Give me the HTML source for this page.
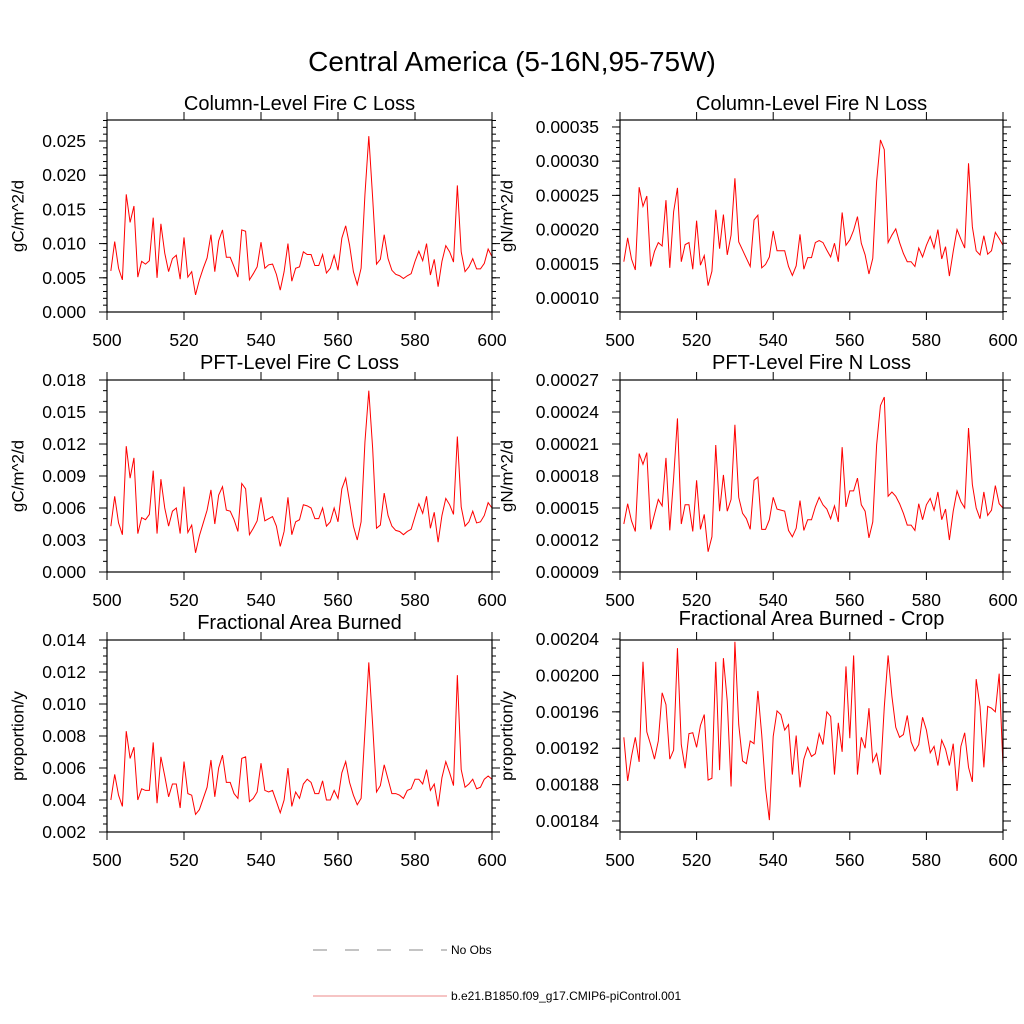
<!DOCTYPE html>
<html><head><meta charset="utf-8"><style>
html,body{margin:0;padding:0;background:#fff;}
svg{display:block;font-family:"Liberation Sans",sans-serif;}
</style></head><body>
<svg id="chart" width="1024" height="1024" viewBox="0 0 1024 1024">
<text x="512" y="71" font-size="28" text-anchor="middle">Central America (5-16N,95-75W)</text>
<g>
<line x1="313" y1="950" x2="447" y2="950" stroke="#888" stroke-width="1" stroke-dasharray="14,18"/>
<text x="451" y="954" font-size="12">No Obs</text>
<line x1="313" y1="996" x2="447" y2="996" stroke="#e88" stroke-width="1"/>
<text x="451" y="1000" font-size="12">b.e21.B1850.f09_g17.CMIP6-piControl.001</text>
</g>
</svg>
<script>
// years 501..600
const yearStart = 501;
const xTicks = [500, 520, 540, 560, 580, 600];
// Column-level fire C loss (x1e-3 gC/m^2/d)
const colCLoss = [6.0,10.3,6.4,4.7,17.2,13.1,15.5,5.1,7.4,7.0,7.5,13.8,5.0,12.9,8.6,5.9,7.8,8.3,4.8,10.9,5.1,5.9,2.5,4.7,6.4,7.9,11.3,5.9,10.4,12.0,8.0,8.0,6.6,5.1,12.0,11.8,4.7,5.6,6.6,10.2,6.4,6.9,7.0,5.5,3.2,5.9,10.0,4.5,6.4,6.6,8.8,8.4,8.4,6.8,6.8,8.4,5.7,6.4,8.3,6.1,10.8,12.6,9.8,5.9,4.0,6.4,17.2,25.7,16.7,7.0,7.7,11.3,7.8,6.1,5.5,5.3,4.9,5.3,5.6,7.4,8.9,7.5,10.0,5.4,7.7,3.7,7.4,9.7,8.8,7.3,18.5,8.8,5.9,6.6,7.8,6.3,6.3,7.1,9.2,8.1];
// Column-level fire N loss (x1e-5 gN/m^2/d)
const colNLoss = [15.3,18.8,15.7,14.1,26.2,23.4,24.9,14.6,16.8,18.1,17.6,24.3,14.4,22.6,26.1,15.3,17.8,18.1,14.2,21.3,14.8,16.2,11.8,13.9,22.9,17.2,22.2,16.3,19.2,27.5,18.2,17.0,15.8,14.6,21.4,22.1,14.4,14.9,16.0,19.8,16.9,16.9,16.9,14.6,13.3,14.7,19.3,14.2,15.9,15.9,18.1,18.4,18.1,17.0,16.0,18.0,15.3,22.5,17.7,18.5,19.9,21.9,18.0,16.3,13.5,15.8,27.0,33.1,31.7,18.1,19.2,20.1,18.1,16.5,15.3,15.3,14.6,17.3,16.0,17.7,19.0,17.3,20.0,15.7,17.5,13.2,16.8,20.0,18.6,17.3,29.7,20.4,16.9,16.3,19.1,16.4,16.9,19.6,18.7,17.7];
// PFT-level fire C loss (x1e-3)
const pftCLoss = [4.3,7.1,4.6,3.5,11.8,8.8,10.7,3.6,5.1,4.9,5.4,9.5,3.6,8.7,6.0,4.3,5.7,6.0,3.6,8.0,3.7,4.4,1.8,3.4,4.6,5.8,7.7,4.5,7.2,8.0,5.8,5.7,4.9,3.8,8.3,7.8,3.5,4.1,4.8,7.0,4.8,5.0,5.2,4.3,2.4,3.8,7.0,3.5,4.7,4.9,6.3,6.2,6.0,5.0,5.0,6.0,4.3,4.7,6.0,4.7,7.8,8.8,6.6,4.3,3.0,4.7,12.2,17.0,11.6,4.1,4.4,7.4,5.3,4.3,3.9,3.8,3.5,3.8,4.0,5.2,6.4,5.5,7.1,4.1,5.6,2.8,5.3,6.9,6.3,5.4,12.7,6.1,4.3,4.7,5.7,4.6,4.7,5.3,6.5,6.0];
// PFT-level fire N loss (x1e-5)
const pftNLoss = [13.5,15.4,13.8,12.8,20.1,19.1,20.2,13.0,14.4,15.8,15.2,19.7,12.9,17.8,23.4,13.5,15.3,15.3,12.8,17.6,13.0,14.4,10.9,12.3,20.9,14.7,18.1,14.7,15.8,22.8,16.0,14.5,14.0,13.0,17.6,17.9,13.0,13.0,13.9,16.0,14.9,14.8,14.7,12.9,12.3,13.1,15.7,12.9,13.9,13.9,15.1,16.0,15.3,14.9,14.0,15.2,13.7,20.7,15.1,16.6,16.6,17.8,15.3,14.7,12.2,13.7,20.9,24.6,25.4,16.1,16.5,16.1,15.4,14.5,13.4,13.4,12.9,15.4,13.9,15.3,15.9,14.8,16.5,13.9,14.9,12.0,14.7,16.6,15.6,15.0,22.5,17.2,15.0,14.0,16.5,14.3,14.8,17.1,15.4,15.0];
// Fractional area burned (x1e-3 proportion/y)
const areaBurned = [4.0,5.6,4.3,3.6,8.3,6.6,7.3,4.0,4.7,4.6,4.6,7.6,3.8,6.7,5.5,4.2,5.0,5.0,3.5,6.4,4.4,4.3,3.1,3.4,4.1,4.8,6.5,4.2,6.0,6.8,5.1,5.1,4.4,4.1,6.6,6.7,3.9,4.1,4.5,6.3,4.6,4.5,4.6,3.9,3.2,4.0,6.0,3.6,4.5,4.1,5.0,5.3,5.1,4.4,4.4,5.2,4.0,4.0,4.6,4.1,5.7,6.4,5.1,4.3,3.7,4.1,8.3,12.6,8.7,4.5,4.9,6.2,5.3,4.4,4.4,4.3,4.1,4.6,4.7,5.3,5.3,5.0,5.9,4.6,5.0,3.6,5.4,6.4,5.7,4.9,11.8,5.9,4.8,5.0,5.3,4.7,4.8,5.3,5.5,5.3];
// Fractional area burned - crop (x1e-5)
const areaBurnedCrop = [193.2,188.4,191.1,193.2,190.5,201.5,193.8,192.4,190.8,192.8,198.1,196.8,190.8,191.8,203.0,192.4,189.8,193.6,193.7,192.1,194.5,195.7,188.5,188.7,201.5,189.6,201.9,197.2,187.8,203.7,194.6,190.6,190.3,192.8,192.5,198.3,193.5,187.6,184.1,193.3,196.1,195.7,194.0,194.6,189.1,193.4,187.7,190.8,192.1,191.1,191.4,193.6,192.4,196.0,195.5,189.1,194.8,191.6,201.0,193.1,202.2,189.1,193.2,192.0,196.4,190.5,191.4,189.1,196.5,202.2,197.7,194.3,193.2,193.5,195.6,192.7,191.7,192.4,195.4,194.0,191.5,192.2,190.1,192.9,191.9,190.1,192.5,187.3,192.2,193.7,189.9,188.3,199.6,196.6,189.9,196.6,196.4,196.0,200.2,190.0];

const yTicks1 = [0,5,10,15,20,25];
const yLabels1 = ["0.000","0.005","0.010","0.015","0.020","0.025"];
const yTicks2 = [10,15,20,25,30,35];
const yLabels2 = ["0.00010","0.00015","0.00020","0.00025","0.00030","0.00035"];
const yTicks3 = [0,3,6,9,12,15,18];
const yLabels3 = ["0.000","0.003","0.006","0.009","0.012","0.015","0.018"];
const yTicks4 = [9,12,15,18,21,24,27];
const yLabels4 = ["0.00009","0.00012","0.00015","0.00018","0.00021","0.00024","0.00027"];
const yTicks5 = [2,4,6,8,10,12,14];
const yLabels5 = ["0.002","0.004","0.006","0.008","0.010","0.012","0.014"];
const yTicks6 = [184,188,192,196,200,204];
const yLabels6 = ["0.00184","0.00188","0.00192","0.00196","0.00200","0.00204"];

const panels = [
 {name:'col-fire-c-loss', title:'Column-Level Fire C Loss', ylab:'gC/m^2/d', x0:107,x1:492,y0:120,y1:312, ymin:0, ymax:28.07, data:colCLoss, ticks:yTicks1, labels:yLabels1, minor:1, labx:18, ty:110},
 {name:'col-fire-n-loss', title:'Column-Level Fire N Loss', ylab:'gN/m^2/d', x0:620,x1:1003,y0:120,y1:312, ymin:7.95, ymax:36.02, data:colNLoss, ticks:yTicks2, labels:yLabels2, minor:1, labx:507, ty:110},
 {name:'pft-fire-c-loss', title:'PFT-Level Fire C Loss', ylab:'gC/m^2/d', x0:107,x1:492,y0:380,y1:572, ymin:0, ymax:18, data:pftCLoss, ticks:yTicks3, labels:yLabels3, minor:1, labx:18, ty:369},
 {name:'pft-fire-n-loss', title:'PFT-Level Fire N Loss', ylab:'gN/m^2/d', x0:620,x1:1003,y0:380,y1:572, ymin:9, ymax:27, data:pftNLoss, ticks:yTicks4, labels:yLabels4, minor:1, labx:507, ty:369},
 {name:'area-burned', title:'Fractional Area Burned', ylab:'proportion/y', x0:107,x1:492,y0:640,y1:832, ymin:2, ymax:14, data:areaBurned, ticks:yTicks5, labels:yLabels5, minor:0.5, labx:18, ty:629},
 {name:'area-burned-crop', title:'Fractional Area Burned - Crop', ylab:'proportion/y', x0:620,x1:1003,y0:640,y1:832, ymin:182.79, ymax:203.9, data:areaBurnedCrop, ticks:yTicks6, labels:yLabels6, minor:1, labx:507, ty:625}
];

const NS='http://www.w3.org/2000/svg';
const svg=document.getElementById('chart');
function mk(tag, attrs, parent){const e=document.createElementNS(NS,tag);for(const k in attrs)e.setAttribute(k,attrs[k]);parent.appendChild(e);return e;}

panels.forEach(p=>{
  const g=mk('g',{},svg);
  
  
  const xs=v=>p.x0+(v-500)/100*(p.x1-p.x0);
  const ys=v=>p.y1-(v-p.ymin)/(p.ymax-p.ymin)*(p.y1-p.y0);
  const t=mk('text',{x:(p.x0+p.x1)/2,y:p.ty,'font-size':20,'text-anchor':'middle'},g);
  t.textContent=p.title;
  
  
  const cy=(p.y0+p.y1)/2;
  const yl=mk('text',{x:p.labx,y:cy,'font-size':17,'text-anchor':'middle',transform:`rotate(-90 ${p.labx} ${cy})`,'dominant-baseline':'central'},g);
  yl.textContent=p.ylab;
  
  
  for(let v=Math.ceil(p.ymin/p.minor)*p.minor; v<=p.ymax+1e-9; v+=p.minor){
    const y=ys(v);
    mk('line',{x1:p.x0-4,x2:p.x0,y1:y,y2:y,stroke:'#000','stroke-width':1},g);
    mk('line',{x1:p.x1,x2:p.x1+4,y1:y,y2:y,stroke:'#000','stroke-width':1},g);
  }
  p.ticks.forEach((v,i)=>{
    const y=ys(v);
    mk('line',{x1:p.x0-8,x2:p.x0,y1:y,y2:y,stroke:'#000','stroke-width':1},g);
    mk('line',{x1:p.x1,x2:p.x1+8,y1:y,y2:y,stroke:'#000','stroke-width':1},g);
    const l=mk('text',{x:p.x0-21,y:y+6,'font-size':17.5,'text-anchor':'end'},g);
    l.textContent=p.labels[i];
    
    
  });
  xTicks.forEach(v=>{
    const x=xs(v);
    mk('line',{x1:x,x2:x,y1:p.y1,y2:p.y1+8,stroke:'#000','stroke-width':1},g);
    mk('line',{x1:x,x2:x,y1:p.y0-8,y2:p.y0,stroke:'#000','stroke-width':1},g);
    const l=mk('text',{x:x,y:p.y1+34,'font-size':17.5,'text-anchor':'middle'},g);
    l.textContent=String(v);
    
    
  });
  const pts=p.data.map((v,i)=>xs(yearStart+i).toFixed(2)+','+ys(v).toFixed(2)).join(' ');
  const pl=mk('polyline',{points:pts,fill:'none',stroke:'#ff0000','stroke-width':1},g);
  
  
  const r=mk('rect',{x:p.x0,y:p.y0,width:p.x1-p.x0,height:p.y1-p.y0,fill:'none',stroke:'#000','stroke-width':1.2},g);
  
  
});
</script>
</body></html>
